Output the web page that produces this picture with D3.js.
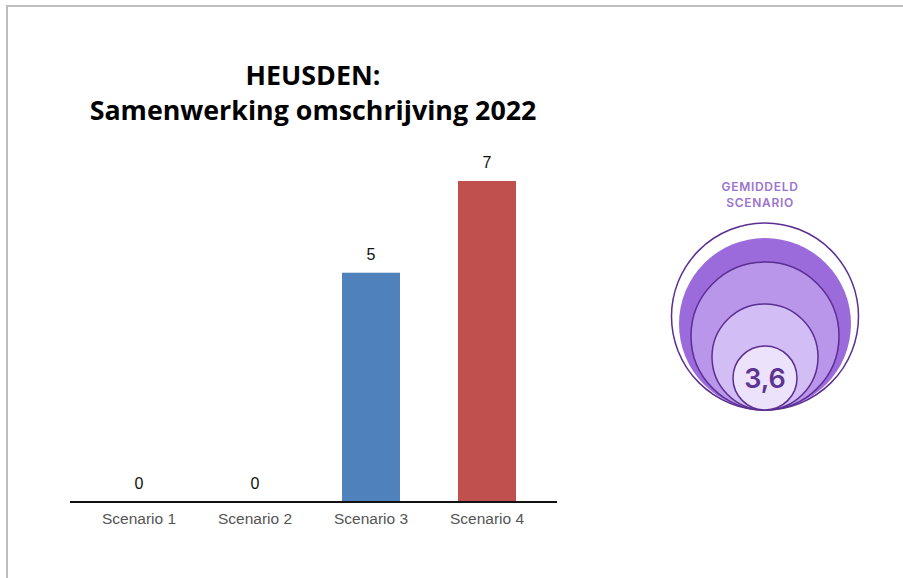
<!DOCTYPE html>
<html>
<head>
<meta charset="utf-8">
<script src="https://cdn.jsdelivr.net/npm/d3@7"></script>
<style>
body { margin: 0; background: #fff; }
svg { display: block; }
</style>
</head>
<body>
<div id="chart"></div>
<script>
var categories = ["Scenario 1", "Scenario 2", "Scenario 3", "Scenario 4"];
var values = [0, 0, 5, 7];
var barColors = ["#4f81bd", "#4f81bd", "#4f81bd", "#c0504d"];
var titleLines = ["HEUSDEN:", "Samenwerking omschrijving 2022"];
var averageLabel = ["GEMIDDELD", "SCENARIO"];
var averageValue = "3,6";

var width = 903, height = 578;

var svg = d3.select("#chart")
	.append("svg")
	.attr("width", width)
	.attr("height", height);

// frame of the slide
svg.append("path")
	.attr("d", "M7 578 L7 6 L903 6")
	.attr("fill", "none")
	.attr("stroke", "#bdbdbd")
	.attr("stroke-width", 2);

// title
svg.selectAll(".title")
	.data(titleLines)
	.enter().append("text")
	.attr("class", "title")
	.attr("x", 313)
	.attr("y", function(d, i) { return 85 + i * 35; })
	.attr("text-anchor", "middle")
	.style("font-family", "'Open Sans', sans-serif")
	.style("font-weight", "bold")
	.style("font-size", "26.8px")
	.attr("fill", "#000")
	.text(function(d) { return d; });

var x = d3.scaleBand().domain(categories).range([81, 545]).paddingInner(0.5).paddingOuter(0.25);
var y = d3.scaleLinear().domain([0, 7]).range([502, 181]);

svg.selectAll(".bar")
	.data(values)
	.enter().append("rect")
	.attr("class", "bar")
	.attr("x", function(d, i) { return x(categories[i]); })
	.attr("y", function(d) { return y(d); })
	.attr("width", x.bandwidth())
	.attr("height", function(d) { return y(0) - y(d); })
	.attr("fill", function(d, i) { return barColors[i]; });

svg.selectAll(".val")
	.data(values)
	.enter().append("text")
	.attr("class", "val")
	.attr("x", function(d, i) { return x(categories[i]) + x.bandwidth() / 2; })
	.attr("y", function(d) { return y(d) - 13; })
	.attr("text-anchor", "middle")
	.style("font-family", "'Liberation Sans', Arial, sans-serif")
	.style("font-size", "16px")
	.attr("fill", "#111")
	.text(function(d) { return d; });

var xAxis = svg.append("g")
	.attr("transform", "translate(0," + y(0) + ")")
	.call(d3.axisBottom(x).tickSize(0).tickPadding(11));
xAxis.select(".domain").remove();
xAxis.append("line")
	.attr("x1", 70).attr("x2", 557)
	.attr("stroke", "#111").attr("stroke-width", 2);
xAxis.selectAll("text")
	.style("font-family", "'Liberation Sans', Arial, sans-serif")
	.style("font-size", "15.5px")
	.attr("fill", "#555");

// average badge
var cx = 765, bottom = 410;
var rings = [
	{r: 93.5, fill: "#ffffff", stroke: "#5b2f92", sw: 1.5},
	{r: 86, fill: "#9b6bdc", stroke: "none", sw: 0},
	{r: 74, fill: "#b996ea", stroke: "#5b2f92", sw: 1.5},
	{r: 53, fill: "#d3bdf5", stroke: "#5b2f92", sw: 1.5},
	{r: 32, fill: "#ece2fc", stroke: "#5b2f92", sw: 1.5}
];
var badge = svg.append("g");
badge.selectAll("circle")
	.data(rings)
	.enter().append("circle")
	.attr("cx", cx)
	.attr("cy", function(d) { return bottom - d.r; })
	.attr("r", function(d) { return d.r; })
	.attr("fill", function(d) { return d.fill; })
	.attr("stroke", function(d) { return d.stroke; })
	.attr("stroke-width", function(d) { return d.sw; });

badge.append("text")
	.attr("x", cx)
	.attr("y", 388)
	.attr("text-anchor", "middle")
	.style("font-family", "Inter, 'Open Sans', sans-serif")
	.style("font-weight", "600")
	.style("font-size", "27px")
	.attr("fill", "#5b3590")
	.text(averageValue);

badge.selectAll(".lbl")
	.data(averageLabel)
	.enter().append("text")
	.attr("class", "lbl")
	.attr("x", cx - 5)
	.attr("y", function(d, i) { return 191 + i * 16; })
	.attr("text-anchor", "middle")
	.style("font-family", "Inter, 'Open Sans', sans-serif")
	.style("font-weight", "600")
	.style("font-size", "12px")
	.style("letter-spacing", "0.7px")
	.attr("fill", "#9a74cf")
	.text(function(d) { return d; });
</script>
</body>
</html>
